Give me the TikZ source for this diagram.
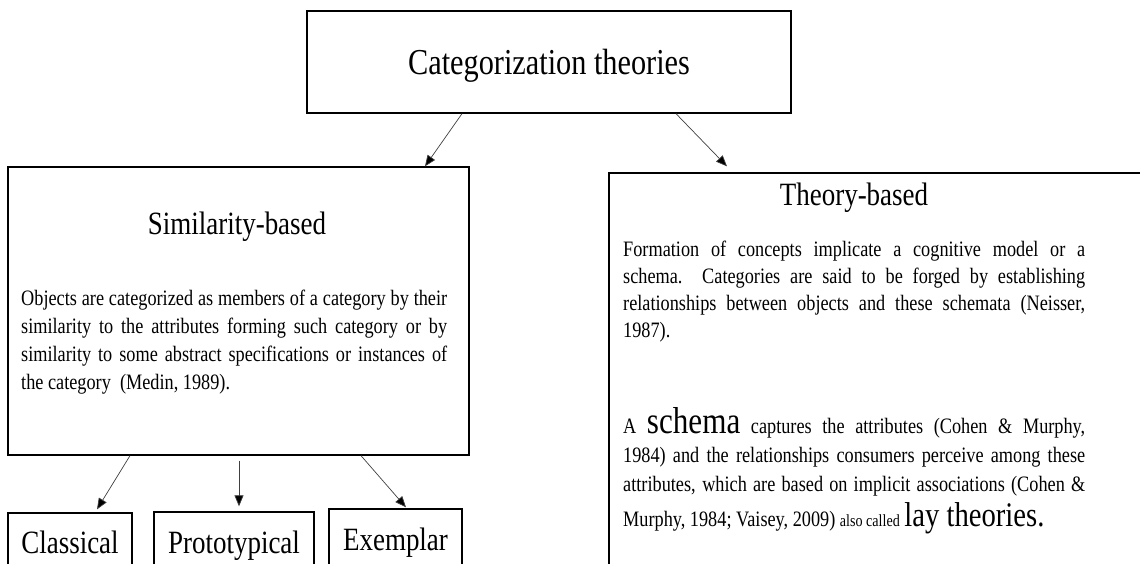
\documentclass[tikz,border=0pt]{standalone}
\usepackage{fontspec}
\setmainfont[FakeStretch=0.83]{Liberation Serif}
\usetikzlibrary{arrows.meta}
\tikzset{
  box/.style={draw, line width=1.3pt, rectangle, inner sep=0pt},
  conn/.style={line width=0.7pt, draw=black!75, -{Triangle[length=11pt,width=9pt,fill=black]}},
  ttl/.style={font=\fontsize{32.5}{32.5}\selectfont, inner sep=0pt, anchor=base},
  txt/.style={font=\fontsize{22}{22}\selectfont, inner sep=0pt, anchor=base west},
}
\newcommand\simline[1]{\makebox[426pt][s]{#1}}
\newcommand\thyline[1]{\makebox[462pt][s]{#1}}
\begin{document}
\begin{tikzpicture}[x=1pt,y=-1pt]
\useasboundingbox (0,0) rectangle (1140,564);
\clip (0,0) rectangle (1140,564);
% boxes
\node[box, minimum width=484pt, minimum height=102pt] (top) at (549,62) {};
\node[box, minimum width=461pt, minimum height=288pt] (sim) at (238.5,311) {};
\node[box, minimum width=551pt, minimum height=427pt] (thy) at (884.5,386.5) {};
\node[box, minimum width=124pt, minimum height=87pt] (cls) at (70,556.5) {};
\node[box, minimum width=160pt, minimum height=88pt] (pro) at (234,556) {};
\node[box, minimum width=133pt, minimum height=91pt] (exm) at (395.5,554.5) {};
% titles
\node[ttl, font=\fontsize{36.5}{36.5}\selectfont] (toptxt) at (549,75) {Categorization theories};
\node[ttl] (simttl) at (237,234) {Similarity-based};
\node[ttl] (thyttl) at (854,205) {Theory-based};
\node[ttl] (clstxt) at (70,553) {Classical};
\node[ttl] (protxt) at (234,553) {Prototypical};
\node[ttl] (exmtxt) at (395.5,550) {Exemplar};
% similarity body
\node[txt] (s1) at (21,305) {\simline{Objects are categorized as members of a category by their}};
\node[txt] (s2) at (21,333) {\simline{similarity to the attributes forming such category or by}};
\node[txt] (s3) at (21,361) {\simline{similarity to some abstract specifications or instances of}};
\node[txt] (s4) at (21,389) {the category\ \ (Medin, 1989).};
% theory body
\node[txt] (t1) at (623,256) {\thyline{Formation of concepts implicate a cognitive model or a}};
\node[txt] (t2) at (623,283) {\thyline{schema.\ \ Categories are said to be forged by establishing}};
\node[txt] (t3) at (623,310) {\thyline{relationships between objects and these schemata (Neisser,}};
\node[txt] (t4) at (623,337) {1987).};
\node[txt] (t5) at (623,433) {\thyline{A {\fontsize{37.5}{37.5}\selectfont schema} captures the attributes (Cohen \& Murphy,}};
\node[txt] (t6) at (623,462) {\thyline{1984) and the relationships consumers perceive among these}};
\node[txt] (t7) at (623,491) {\thyline{attributes, which are based on implicit associations (Cohen \&}};
\node[txt] (t8) at (623,526) {Murphy, 1984; Vaisey, 2009) {\fontsize{17}{17}\selectfont also called} {\fontsize{34.5}{34.5}\selectfont lay theories.}};
% connectors
\draw[conn] ([xshift=-87pt]top.south) -- ([xshift=186.5pt]sim.north);
\draw[conn] ([xshift=127pt]top.south) -- ([xshift=-157.5pt,yshift=6pt]thy.north);
\draw[conn] ([xshift=-108.5pt]sim.south) -- ([xshift=27pt,yshift=3pt]cls.north);
\draw[conn] ([xshift=0.5pt,yshift=-5pt]sim.south) -- ([xshift=5pt,yshift=5pt]pro.north);
\draw[conn] ([xshift=122.5pt]sim.south) -- ([xshift=10.5pt,yshift=1pt]exm.north);
\end{tikzpicture}
\end{document}
